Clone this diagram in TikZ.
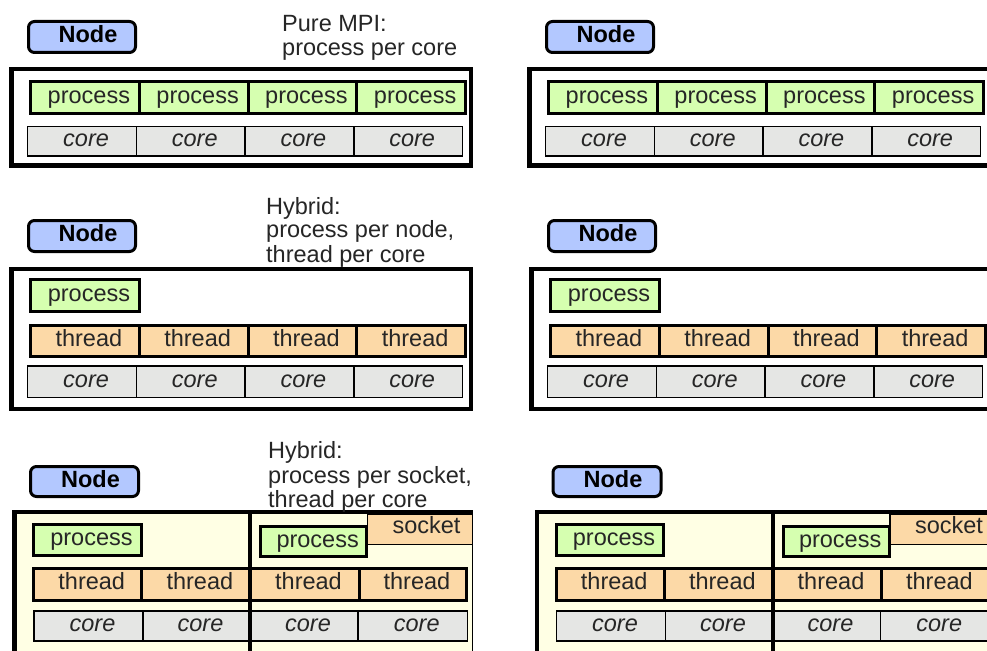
\documentclass[tikz,border=0pt]{standalone}
\usepackage{fontspec}
\setmainfont{Liberation Sans}
\definecolor{nodeblue}{HTML}{B3C8FF}
\definecolor{procgreen}{HTML}{D6FFB0}
\definecolor{throrange}{HTML}{FCD9A7}
\definecolor{coregray}{HTML}{E5E6E4}
\definecolor{sockbg}{HTML}{FFFFE4}
\definecolor{txt}{HTML}{262626}
\tikzset{
  cell/.style={draw=black, inner sep=0pt, outer sep=0pt, text height=11pt, text depth=0pt,
    text=txt, font=\fontsize{23.5}{26}\selectfont, execute at begin node={\hspace*{8pt}}},
  proc/.style={cell, fill=procgreen, line width=3pt},
  thr/.style={cell, fill=throrange, line width=3pt},
  corecell/.style={cell, fill=coregray, line width=1.5pt, font=\fontsize{23.5}{26}\selectfont\itshape},
  nodebox/.style={cell, fill=nodeblue, line width=3pt, rounded corners=6pt,
    font=\fontsize{23.5}{26}\selectfont\bfseries, text=black, execute at begin node={\hspace*{4pt}}},
  sockbox/.style={cell, fill=throrange, line width=1.5pt, text height=7.6pt, execute at begin node={\hspace*{5pt}}},
  lbl/.style={anchor=base west, inner sep=0pt, text=txt, font=\fontsize{23.5}{26}\selectfont},
  frame/.style={draw=black, line width=4.5pt, inner sep=0pt, outer sep=0pt},
}
\begin{document}
\begin{tikzpicture}[x=1pt,y=-1pt]
\clip (0,0) rectangle (987,650);
\fill[white] (0,0) rectangle (987,650);
% ---------- Pure MPI ----------
\foreach \pn/\sh in {A/0,B/518}{
  \begin{scope}[xshift=\sh]
    \node[frame, minimum width=459.5pt, minimum height=96.5pt] (\pn-frame) at (241.25,117.25) {};
    \node[nodebox, minimum width=107pt, minimum height=31pt] (\pn-node) at (82,37) {Node};
    \foreach \i/\n in {0/a,1/b,2/c,3/d}{
      \node[proc, minimum width=108.75pt, minimum height=32pt] (\pn-p\n) at ({30.5+108.75*(\i+0.5)},97.5) {process};
      \node[corecell, minimum width=108.7pt, minimum height=29.2pt] (\pn-c\n) at ({27.7+108.7*(\i+0.5)},141.3) {core};
    }
  \end{scope}
}
% ---------- Hybrid per node ----------
\foreach \pn/\sh in {C/0,D/520}{
  \begin{scope}[xshift=\sh]
    \node[frame, minimum width=459.3pt, minimum height=140pt] (\pn-frame) at (241.35,339) {};
    \node[nodebox, minimum width=107pt, minimum height=31pt] (\pn-node) at (82,236) {Node};
    \node[proc, minimum width=109pt, minimum height=32pt] (\pn-p) at (85,295.5) {process};
    \foreach \i/\n in {0/a,1/b,2/c,3/d}{
      \node[thr, minimum width=108.75pt, minimum height=31pt] (\pn-t\n) at ({30.5+108.75*(\i+0.5)},340.5) {thread};
      \node[corecell, minimum width=108.7pt, minimum height=31.8pt] (\pn-c\n) at ({27.7+108.7*(\i+0.5)},381.7) {core};
    }
  \end{scope}
}
% ---------- Hybrid per socket ----------
\foreach \pn/\sh in {E/0,F/522.5}{
  \begin{scope}[xshift=\sh]
    \fill[sockbg] (12,510) rectangle (473,665);
    \node[sockbox, minimum width=105pt, minimum height=30pt] (\pn-sock) at (420,529.5) {socket};
    \node[nodebox, minimum width=108pt, minimum height=30pt] (\pn-node) at (84.5,481.5) {Node};
    \node[proc, minimum width=107.4pt, minimum height=31pt] (\pn-pa) at (87.5,540.3) {process};
    \node[proc, minimum width=106.3pt, minimum height=30.3pt] (\pn-pb) at (313.65,541.65) {process};
    \node[thr, minimum width=107.9pt, minimum height=32pt] (\pn-ta) at (87.75,584.2) {thread};
    \node[thr, minimum width=108.3pt, minimum height=32pt] (\pn-tb) at (195.85,584.2) {thread};
    \node[thr, minimum width=109pt, minimum height=32pt] (\pn-tc) at (304.5,584.2) {thread};
    \node[thr, minimum width=107.8pt, minimum height=32pt] (\pn-td) at (412.9,584.2) {thread};
    \node[corecell, minimum width=109pt, minimum height=30.3pt] (\pn-ca) at (88.5,625.9) {core};
    \node[corecell, minimum width=107pt, minimum height=30.3pt] (\pn-cb) at (196.5,625.9) {core};
    \node[corecell, minimum width=108pt, minimum height=30.3pt] (\pn-cc) at (304,625.9) {core};
    \node[corecell, minimum width=109.5pt, minimum height=30.3pt] (\pn-cd) at (412.75,625.9) {core};
    \draw[line width=4pt] (250.3,512) -- (250.3,665);
    \draw[line width=1.5pt] (472.5,512) -- (472.5,665);
    \draw[line width=4.5pt] (14.5,665) -- (14.5,512) -- (472.5,512);
  \end{scope}
}
% ---------- labels ----------
\node[lbl] (lA1) at (282,32) {Pure MPI:};
\node[lbl] (lA2) at (282,56) {process per core};
\node[lbl] (lC1) at (266,214) {Hybrid:};
\node[lbl] (lC2) at (266,237.5) {process per node,};
\node[lbl] (lC3) at (266,262) {thread per core};
\node[lbl] (lE1) at (268,458.3) {Hybrid:};
\node[lbl] (lE2) at (268,483) {process per socket,};
\node[lbl] (lE3) at (268,507) {thread per core};
\end{tikzpicture}
\end{document}
